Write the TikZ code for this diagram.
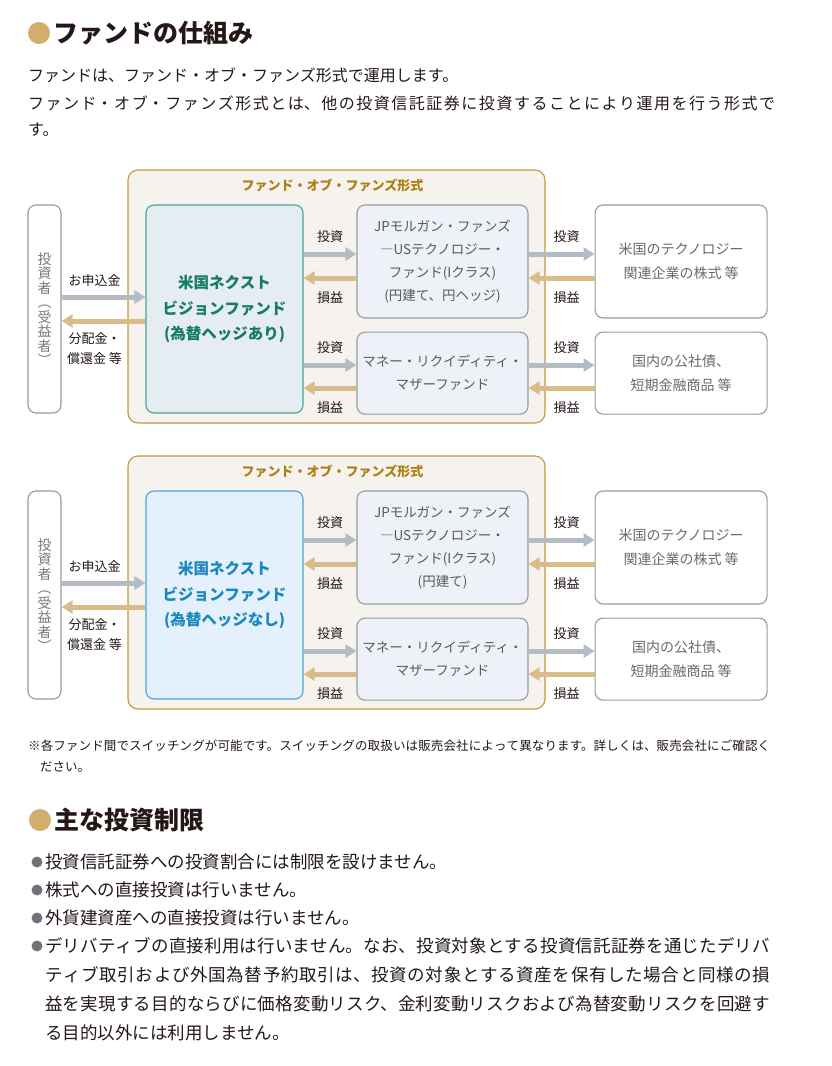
\documentclass[tikz,border=0pt]{standalone}
\usepackage{fontspec}
\setmainfont{Noto Sans CJK JP}
\usetikzlibrary{positioning,arrows.meta}
\XeTeXlinebreaklocale "ja"
\XeTeXlinebreakskip=0pt plus 3pt
\definecolor{ink}{HTML}{231815}
\definecolor{dotgold}{HTML}{D2AD6B}
\definecolor{dotgray}{HTML}{6E747B}
\definecolor{frameline}{HTML}{C8963C}
\definecolor{framefill}{HTML}{F6F2ED}
\definecolor{frametext}{HTML}{B07D12}
\definecolor{tealline}{HTML}{4AA397}
\definecolor{tealfill}{HTML}{E6EDF2}
\definecolor{tealtext}{HTML}{167A68}
\definecolor{blueline}{HTML}{4BA5D5}
\definecolor{bluefill}{HTML}{E4F0FB}
\definecolor{bluetext}{HTML}{1B87BF}
\definecolor{boxline}{HTML}{959BA3}
\definecolor{subfill}{HTML}{EEF1F8}
\definecolor{subtext}{HTML}{5A5A5A}
\definecolor{desttext}{HTML}{6A6A6A}
\definecolor{invtext}{HTML}{7A7A7A}
\definecolor{arrgray}{HTML}{B4BBC3}
\definecolor{arrgold}{HTML}{D8BD8B}
\newcommand{\fsz}[2]{\fontsize{#1}{#2}\selectfont}
% one justified line of the given width
\newcommand{\jline}[2]{\parbox{#1}{\parfillskip=0pt #2}}

\begin{document}
\begin{tikzpicture}[x=1pt, y=-1pt, >={Triangle[length=11pt, width=13pt]},
  box/.style={draw=boxline, line width=1.1pt, rounded corners=8pt, align=center, inner sep=0pt, fill=#1},
  box/.default=white,
  frame/.style={box=framefill, draw=frameline, rounded corners=10pt, minimum width=417pt, minimum height=253pt},
  frametitle/.style={text=frametext, font=\bfseries\fsz{13}{15}, inner sep=0pt},
  investor/.style={box, text=invtext, font=\fsz{14}{14.5}, minimum width=33pt, minimum height=208pt},
  fund/.style={box=#1fill, draw=#1line, text=#1text, font=\bfseries\fsz{15.5}{25.5}, minimum width=157pt, minimum height=208pt},
  sub/.style={box=subfill, text=subtext, font=\fsz{13.5}{23}, minimum width=171pt},
  dest/.style={box, text=desttext, font=\fsz{14}{24}, minimum width=172pt},
  inv/.style={->, draw=arrgray, line width=5pt},
  ret/.style={->, draw=arrgold, line width=5pt},
  lbl/.style={text=ink, font=\fsz{13}{20}, inner sep=0pt, align=center},
  head/.style={anchor=west, inner sep=0pt, text=ink, font=\bfseries\fsz{25}{30}},
  body/.style={anchor=west, inner sep=0pt, text=ink, font=\fsz{16}{28}},
  note/.style={anchor=west, inner sep=0pt, text=ink, font=\fsz{12.5}{20}},
  item/.style={anchor=west, inner sep=0pt, text=ink, font=\fsz{17.5}{29}}]
  \useasboundingbox (0,0) rectangle (832,1066);

  % heading and intro
  \fill[dotgold] (39,33) circle[radius=11pt];
  \node[head] (t1) at (53,33) {ファンドの仕組み};
  \node[body] (p1) at (28,75) {ファンドは、ファンド・オブ・ファンズ形式で運用します。};
  \node[body] (p2) at (28,103) {\jline{747pt}{ファンド・オブ・ファンズ形式とは、他の投資信託証券に投資することにより運用を行う形式で}};
  \node[body] (p3) at (28,130) {す。};

  % hedged fund
  \node[frame] (fofA) at (336.5,296.5) {};
  \node[frametitle, below=9pt of fofA.north, xshift=-4pt] (fofAt) {ファンド・オブ・ファンズ形式};
  \node[investor] (invA) at (44.5,309) {投\\資\\者\\︵\\受\\益\\者\\︶};
  \node[fund=teal] (fundA) at (224.5,309) {米国ネクスト\\ビジョンファンド\\(為替ヘッジあり)};
  \node[sub, minimum height=113pt] (jpA) at (442.5,261.5) {JPモルガン・ファンズ\\―USテクノロジー・\\ファンド(Iクラス)\\(円建て、円ヘッジ)};
  \node[sub, minimum height=82pt, below=13pt of jpA] (mmA) {マネー・リクイディティ・\\マザーファンド};
  \node[dest, minimum height=113pt, right=66pt of jpA] (stkA) {米国のテクノロジー\\関連企業の株式 等};
  \node[dest, minimum height=82pt, right=66pt of mmA] (bndA) {国内の公社債、\\短期金融商品 等};

  \draw[inv] ([yshift=12pt]invA.east) -- ([yshift=12pt]fundA.west) node[lbl, midway, above=7.5pt, xshift=-9pt] {お申込金};
  \draw[ret] ([yshift=-12pt]fundA.west) -- ([yshift=-12pt]invA.east) node[lbl, midway, below=9pt, xshift=-9pt] {分配金・\\償還金 等};
  \draw[inv] ([yshift=7.5pt]fundA.east |- jpA) -- ([yshift=7.5pt]jpA.west) node[lbl, midway, above=9pt] {投資};
  \draw[ret] ([yshift=-16.5pt]jpA.west) -- ([yshift=-16.5pt]fundA.east |- jpA) node[lbl, midway, below=11pt] {損益};
  \draw[inv] ([yshift=8pt]fundA.east |- mmA) -- ([yshift=8pt]mmA.west) node[lbl, midway, above=9pt] {投資};
  \draw[ret] ([yshift=-15pt]mmA.west) -- ([yshift=-15pt]fundA.east |- mmA) node[lbl, midway, below=11pt] {損益};
  \draw[inv] ([yshift=7.5pt]jpA.east) -- ([yshift=7.5pt]stkA.west) node[lbl, midway, above=9pt, xshift=5pt] {投資};
  \draw[ret] ([yshift=-16.5pt]stkA.west) -- ([yshift=-16.5pt]jpA.east) node[lbl, midway, below=11pt, xshift=5pt] {損益};
  \draw[inv] ([yshift=8pt]mmA.east) -- ([yshift=8pt]bndA.west) node[lbl, midway, above=9pt, xshift=5pt] {投資};
  \draw[ret] ([yshift=-15pt]bndA.west) -- ([yshift=-15pt]mmA.east) node[lbl, midway, below=11pt, xshift=5pt] {損益};

  % unhedged fund
  \begin{scope}[yshift=-286pt]
  \node[frame] (fofB) at (336.5,296.5) {};
  \node[frametitle, below=9pt of fofB.north, xshift=-4pt] (fofBt) {ファンド・オブ・ファンズ形式};
  \node[investor] (invB) at (44.5,309) {投\\資\\者\\︵\\受\\益\\者\\︶};
  \node[fund=blue] (fundB) at (224.5,309) {米国ネクスト\\ビジョンファンド\\(為替ヘッジなし)};
  \node[sub, minimum height=113pt] (jpB) at (442.5,261.5) {JPモルガン・ファンズ\\―USテクノロジー・\\ファンド(Iクラス)\\(円建て)};
  \node[sub, minimum height=82pt, below=13pt of jpB] (mmB) {マネー・リクイディティ・\\マザーファンド};
  \node[dest, minimum height=113pt, right=66pt of jpB] (stkB) {米国のテクノロジー\\関連企業の株式 等};
  \node[dest, minimum height=82pt, right=66pt of mmB] (bndB) {国内の公社債、\\短期金融商品 等};

  \draw[inv] ([yshift=12pt]invB.east) -- ([yshift=12pt]fundB.west) node[lbl, midway, above=7.5pt, xshift=-9pt] {お申込金};
  \draw[ret] ([yshift=-12pt]fundB.west) -- ([yshift=-12pt]invB.east) node[lbl, midway, below=9pt, xshift=-9pt] {分配金・\\償還金 等};
  \draw[inv] ([yshift=7.5pt]fundB.east |- jpB) -- ([yshift=7.5pt]jpB.west) node[lbl, midway, above=9pt] {投資};
  \draw[ret] ([yshift=-16.5pt]jpB.west) -- ([yshift=-16.5pt]fundB.east |- jpB) node[lbl, midway, below=11pt] {損益};
  \draw[inv] ([yshift=8pt]fundB.east |- mmB) -- ([yshift=8pt]mmB.west) node[lbl, midway, above=9pt] {投資};
  \draw[ret] ([yshift=-15pt]mmB.west) -- ([yshift=-15pt]fundB.east |- mmB) node[lbl, midway, below=11pt] {損益};
  \draw[inv] ([yshift=7.5pt]jpB.east) -- ([yshift=7.5pt]stkB.west) node[lbl, midway, above=9pt, xshift=5pt] {投資};
  \draw[ret] ([yshift=-16.5pt]stkB.west) -- ([yshift=-16.5pt]jpB.east) node[lbl, midway, below=11pt, xshift=5pt] {損益};
  \draw[inv] ([yshift=8pt]mmB.east) -- ([yshift=8pt]bndB.west) node[lbl, midway, above=9pt, xshift=5pt] {投資};
  \draw[ret] ([yshift=-15pt]bndB.west) -- ([yshift=-15pt]mmB.east) node[lbl, midway, below=11pt, xshift=5pt] {損益};
  \end{scope}

  % footnote
  \node[note] (n1) at (28,746) {\jline{742pt}{※各ファンド間でスイッチングが可能です。スイッチングの取扱いは販売会社によって異なります。詳しくは、販売会社にご確認く}};
  \node[note] (n2) at (40,767) {ださい。};

  % restrictions
  \fill[dotgold] (40,820) circle[radius=11pt];
  \node[head] (t2) at (54,820) {主な投資制限};
  \fill[dotgray] (37,862) circle[radius=5.5pt];
  \node[item] (l1) at (45,862) {投資信託証券への投資割合には制限を設けません。};
  \fill[dotgray] (37,890) circle[radius=5.5pt];
  \node[item] (l2) at (45,890) {株式への直接投資は行いません。};
  \fill[dotgray] (37,918) circle[radius=5.5pt];
  \node[item] (l3) at (45,918) {外貨建資産への直接投資は行いません。};
  \fill[dotgray] (37,946) circle[radius=5.5pt];
  \node[item] (l4) at (45,946) {\jline{725pt}{デリバティブの直接利用は行いません。なお、投資対象とする投資信託証券を通じたデリバ}};
  \node[item] (l5) at (45,975) {\jline{725pt}{ティブ取引および外国為替予約取引は、投資の対象とする資産を保有した場合と同様の損}};
  \node[item] (l6) at (45,1004) {\jline{725pt}{益を実現する目的ならびに価格変動リスク、金利変動リスクおよび為替変動リスクを回避す}};
  \node[item] (l7) at (45,1033) {る目的以外には利用しません。};
\end{tikzpicture}
\end{document}
